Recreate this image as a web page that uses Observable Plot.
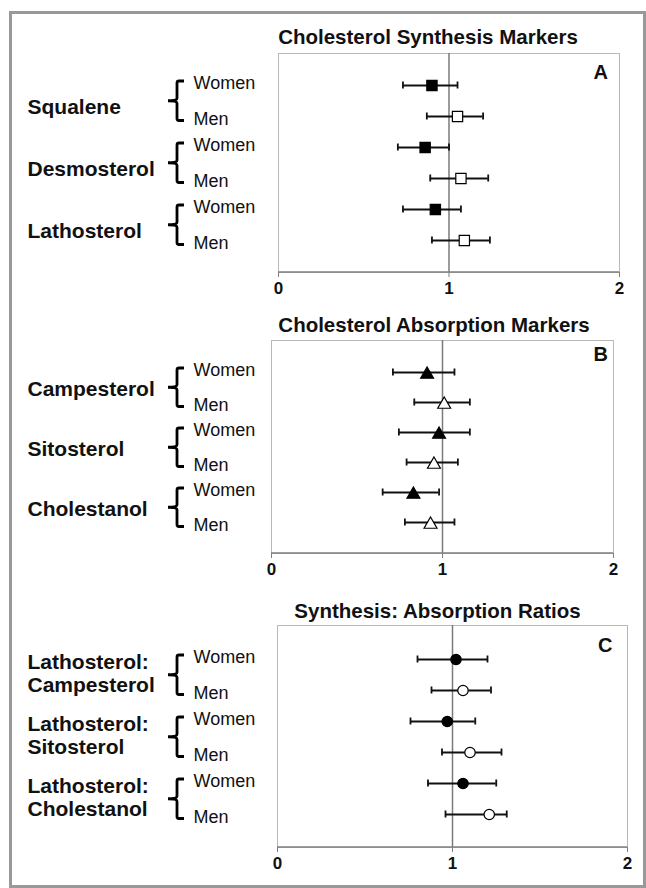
<!DOCTYPE html>
<html><head><meta charset="utf-8">
<script src="https://cdn.jsdelivr.net/npm/d3@7"></script>
<script src="https://cdn.jsdelivr.net/npm/@observablehq/plot@0.6"></script>
<style>
html,body{margin:0;padding:0;background:#fff;}
#wrap{position:relative;width:646px;height:888px;overflow:hidden;font-family:"Liberation Sans",Arial,sans-serif;}
.panel{position:absolute;left:0;}
#border{position:absolute;left:9px;top:11px;width:637px;height:877px;box-sizing:border-box;border:3px solid #999;pointer-events:none;z-index:5;}
</style></head><body><div id="wrap"><div id="border"></div></div>
<script>
// ---------- data ----------
const sexes = ["Women", "Men"];
const xTicks = [0, 1, 2];
const titles = ["Cholesterol Synthesis Markers", "Cholesterol Absorption Markers", "Synthesis: Absorption Ratios"];
const panelLetters = ["A", "B", "C"];

// Panel A: synthesis markers
const groupsA = ["Squalene", "Desmosterol", "Lathosterol"];
const womenMeanA = [0.90, 0.86, 0.92];
const womenLowA  = [0.73, 0.70, 0.73];
const womenHighA = [1.05, 1.00, 1.07];
const menMeanA   = [1.05, 1.07, 1.09];
const menLowA    = [0.87, 0.89, 0.90];
const menHighA   = [1.20, 1.23, 1.24];

// Panel B: absorption markers
const groupsB = ["Campesterol", "Sitosterol", "Cholestanol"];
const womenMeanB = [0.91, 0.98, 0.83];
const womenLowB  = [0.71, 0.745, 0.65];
const womenHighB = [1.07, 1.16, 0.98];
const menMeanB   = [1.01, 0.95, 0.93];
const menLowB    = [0.835, 0.79, 0.78];
const menHighB   = [1.16, 1.09, 1.07];

// Panel C: synthesis : absorption ratios
const groupsC = ["Lathosterol:\nCampesterol", "Lathosterol:\nSitosterol", "Lathosterol:\nCholestanol"];
const womenMeanC = [1.02, 0.97, 1.06];
const womenLowC  = [0.80, 0.76, 0.86];
const womenHighC = [1.20, 1.13, 1.25];
const menMeanC   = [1.06, 1.10, 1.21];
const menLowC    = [0.88, 0.94, 0.96];
const menHighC   = [1.22, 1.28, 1.31];

// ---------- helpers ----------
function buildRows(groups, wm, wl, wh, mm, ml, mh) {
  const rows = [];
  groups.forEach((g, i) => {
    rows.push({key: g + "|Women", group: g, sex: sexes[0], mean: wm[i], lo: wl[i], hi: wh[i]});
    rows.push({key: g + "|Men", group: g, sex: sexes[1], mean: mm[i], lo: ml[i], hi: mh[i]});
  });
  return rows;
}

const FONT = '"Liberation Sans", Arial, sans-serif';
const BRACE_X = 177, TIP_X = 168, HOOK_X = 184, SEX_X = 193, GROUP_X = 27;

function decor(groups) {
  return (index, scales, values, dims) => {
    const g = d3.create("svg:g");
    const yb = dims.height - dims.marginBottom;
    g.append("line")
      .attr("x1", dims.marginLeft).attr("x2", dims.width - dims.marginRight)
      .attr("y1", yb).attr("y2", yb)
      .attr("stroke", "#7f7f7f").attr("stroke-width", 1.6);
    for (const grp of groups) {
      const y0 = scales.y(grp + "|Women") - 4;
      const y1 = scales.y(grp + "|Men") + 4.5;
      const ym = (y0 + y1) / 2;
      const x = BRACE_X;
      const d = `M${HOOK_X},${y0} H${x + 2} Q${x},${y0} ${x},${y0 + 2} V${ym - 2.5} Q${x},${ym} ${TIP_X},${ym} Q${x},${ym} ${x},${ym + 2.5} V${y1 - 2} Q${x},${y1} ${x + 2},${y1} H${HOOK_X}`;
      g.append("path").attr("d", d).attr("fill", "none").attr("stroke", "#000").attr("stroke-width", 2.8);
    }
    return g.node();
  };
}

function panel(cfg) {
  const rows = buildRows(...cfg.data);
  const groups = cfg.data[0];
  const L = cfg.marginLeft, R = cfg.marginRight;
  const frameCx = (L + 646 - R) / 2;
  const chart = Plot.plot({
    width: 646, height: cfg.height,
    marginLeft: L, marginRight: R, marginTop: cfg.marginTop, marginBottom: cfg.marginBottom,
    style: {background: "transparent", fontFamily: FONT, overflow: "visible"},
    x: {domain: [0, 2], label: null},
    y: {type: "band", domain: rows.map(d => d.key), paddingInner: 1, paddingOuter: 1, axis: null},
    marks: [
      Plot.frame({stroke: "#b8b8b8", strokeWidth: 1}),
      Plot.ruleX([1], {stroke: "#7a7a7a", strokeWidth: 1.5}),
      Plot.axisX({ticks: xTicks, tickFormat: "d", tickSize: 5, stroke: "#7f7f7f", fill: "#111",
        fontSize: 17, fontWeight: "bold", tickPadding: 4, label: null}),
      decor(groups),
      // error bars
      Plot.ruleY(rows, {y: "key", x1: "lo", x2: "hi", stroke: "#111", strokeWidth: 2}),
      Plot.tickX(rows, {x: "lo", y: "key", stroke: "#111", strokeWidth: 1.8, insetTop: -3.5, insetBottom: -3.5}),
      Plot.tickX(rows, {x: "hi", y: "key", stroke: "#111", strokeWidth: 1.8, insetTop: -3.5, insetBottom: -3.5}),
      // markers
      Plot.dot(rows, {x: "mean", y: "key", symbol: cfg.symbol, r: cfg.r, dy: cfg.symDy,
        fill: d => d.sex === "Women" ? "#000" : "#fff", stroke: "#000", strokeWidth: 1.2}),
      // sex labels
      Plot.text(rows.filter(d => d.sex === "Women"), {y: "key", text: "sex", frameAnchor: "left",
        dx: SEX_X - L, dy: -2, textAnchor: "start", fontSize: 18, fill: "#111"}),
      Plot.text(rows.filter(d => d.sex === "Men"), {y: "key", text: "sex", frameAnchor: "left",
        dx: SEX_X - L, dy: 3, textAnchor: "start", fontSize: 18, fill: "#111"}),
      // group labels
      Plot.text(rows.filter(d => d.sex === "Women"), {y: "key", text: "group", frameAnchor: "left",
        dx: GROUP_X - L, dy: cfg.groupDy, textAnchor: "start", fontSize: 21, fontWeight: "bold",
        lineHeight: 1.08, fill: "#111"}),
      // title
      Plot.text([cfg.title], {frameAnchor: "top", lineAnchor: "middle", dx: cfg.titleCx - frameCx, dy: cfg.titleDy,
        fontSize: 20.5, fontWeight: "bold", fill: "#111"}),
      // panel letter
      Plot.text([cfg.letter], {frameAnchor: "top-right", lineAnchor: "middle", dx: cfg.letterDx, dy: cfg.letterDy,
        textAnchor: "end", fontSize: 20, fontWeight: "bold", fill: "#111"})
    ]
  });
  chart.classList.add("panel");
  chart.style.top = cfg.top + "px";
  document.getElementById("wrap").appendChild(chart);
}

panel({
  data: [groupsA, womenMeanA, womenLowA, womenHighA, menMeanA, menLowA, menHighA],
  top: 0, height: 300, marginTop: 53, marginBottom: 28, marginLeft: 278, marginRight: 27,
  symbol: "square", r: 5.8, symDy: 0, groupDy: 21,
  title: titles[0], titleCx: 427.5, titleDy: -16,
  letter: panelLetters[0], letterDx: -11.5, letterDy: 19
});
panel({
  data: [groupsB, womenMeanB, womenLowB, womenHighB, menMeanB, menLowB, menHighB],
  top: 300, height: 285, marginTop: 40, marginBottom: 32, marginLeft: 271, marginRight: 33,
  symbol: "triangle", r: 4.8, symDy: 2, groupDy: 16,
  title: titles[1], titleCx: 433.5, titleDy: -15,
  letter: panelLetters[1], letterDx: -5.5, letterDy: 14
});
panel({
  data: [groupsC, womenMeanC, womenLowC, womenHighC, menMeanC, menLowC, menHighC],
  top: 585, height: 292, marginTop: 40, marginBottom: 30, marginLeft: 277, marginRight: 19,
  symbol: "circle", r: 5.2, symDy: 0, groupDy: 14,
  title: titles[2], titleCx: 437, titleDy: -14,
  letter: panelLetters[2], letterDx: -15, letterDy: 20
});
</script>
</body></html>
